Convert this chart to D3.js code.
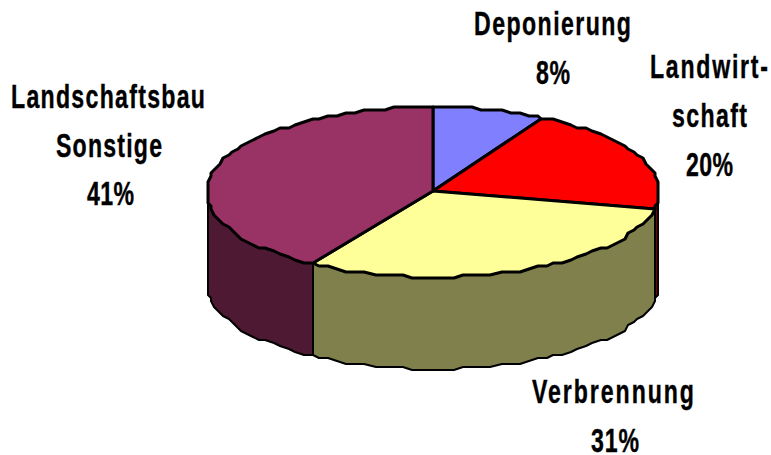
<!DOCTYPE html>
<html>
<head>
<meta charset="utf-8">
<style>
  body { margin: 0; background: #fff; }
  svg { display: block; }
  .label { font-family: "Liberation Sans", sans-serif; font-weight: bold; font-size: 34px; fill: #000; stroke: #000; stroke-width: 0.4px; }
</style>
<script src="https://cdn.jsdelivr.net/npm/d3@7"></script>
</head>
<body>
<div id="chart"></div>
<script>
var svgWidth = 771;
var svgHeight = 455;

// data
var categories = ["Deponierung", "Landwirtschaft", "Verbrennung", "Landschaftsbau Sonstige"];
var shares = [8, 20, 31, 41];
var labelLines = [["Deponierung"], ["Landwirt-", "schaft"], ["Verbrennung"], ["Landschaftsbau", "Sonstige"]];

// look of the slices
var topColors = ["#8080ff", "#ff0000", "#ffff99", "#993366"];
var sideColors = ["#404080", "#800000", "#80804d", "#4d1933"];

// pie geometry
var cx = 433, cy = 192, rx = 226, ry = 85, depth = 92;
var grid = 3; // outline points sit on a coarse grid, which gives the bumpy edge
var stepAngle = 2.5 * Math.PI / 180;
var squeeze = 0.68; // the label font is condensed

// label boxes, one [left, right] per line and one per percent line
var labelLayout = [
  {baseline: 35, gap: 49, boxes: [[474, 631], [536, 570]]},
  {baseline: 78, gap: 49, boxes: [[650, 768], [672, 747], [686, 733]]},
  {baseline: 403, gap: 49, boxes: [[532, 694], [591, 639]]},
  {baseline: 108, gap: 48.5, boxes: [[11, 205], [56, 162], [87, 134]]}
];

var svg = d3.select("#chart")
  .append("svg")
  .attr("width", svgWidth)
  .attr("height", svgHeight);

var slices = d3.pie().sort(null).value(d => d)(shares);

function snap(v, phase) {
  return Math.round((v - phase) / grid) * grid + phase;
}
function rimX(a) {
  return snap(cx + rx * Math.sin(a), 1);
}
function rimY(a) {
  return snap(cy - ry * Math.cos(a), 2);
}
// the two end angles plus every whole step between them, so neighbours share points
function sweep(a0, a1) {
  var first = Math.floor(a0 / stepAngle) + 1;
  var last = Math.ceil(a1 / stepAngle) - 1;
  var mid = d3.range(first, last + 1).map(k => k * stepAngle);
  return [a0].concat(mid, [a1]);
}

var lineGen = d3.line().x(d => d[0]).y(d => d[1]);
var wallGen = d3.area()
  .x(a => rimX(a))
  .y0(a => rimY(a))
  .y1(a => rimY(a) + depth);

// side walls first: only the part facing front, 90deg to 270deg
var walls = svg.append("g");
slices.forEach(function(s, i) {
  var a0 = Math.max(s.startAngle, Math.PI / 2);
  var a1 = Math.min(s.endAngle, Math.PI * 1.5);
  if (a1 <= a0) return;
  walls.append("path")
    .attr("d", wallGen(sweep(a0, a1)))
    .attr("fill", sideColors[i])
    .attr("stroke", "#000")
    .attr("stroke-width", 2)
    .attr("stroke-linejoin", "round");
});

// top face
var tops = svg.append("g");
slices.forEach(function(s, i) {
  var pts = sweep(s.startAngle, s.endAngle).map(a => [rimX(a), rimY(a)]);
  pts.unshift([cx, snap(cy, 2)]);
  tops.append("path")
    .attr("d", lineGen(pts) + "Z")
    .attr("fill", topColors[i])
    .attr("stroke", "#000")
    .attr("stroke-width", 3)
    .attr("stroke-linejoin", "round");
});

// labels
var labels = svg.append("g");
categories.forEach(function(c, i) {
  var lines = labelLines[i].concat([shares[i] + "%"]);
  var layout = labelLayout[i];
  lines.forEach(function(line, j) {
    var box = layout.boxes[j];
    var y = layout.baseline + j * layout.gap;
    labels.append("text")
      .attr("class", "label")
      .attr("transform", `translate(${box[0]}, ${y}) scale(${squeeze}, 1)`)
      .attr("textLength", (box[1] - box[0]) / squeeze)
      .attr("lengthAdjust", "spacing")
      .text(line);
  });
});
</script>
</body>
</html>
